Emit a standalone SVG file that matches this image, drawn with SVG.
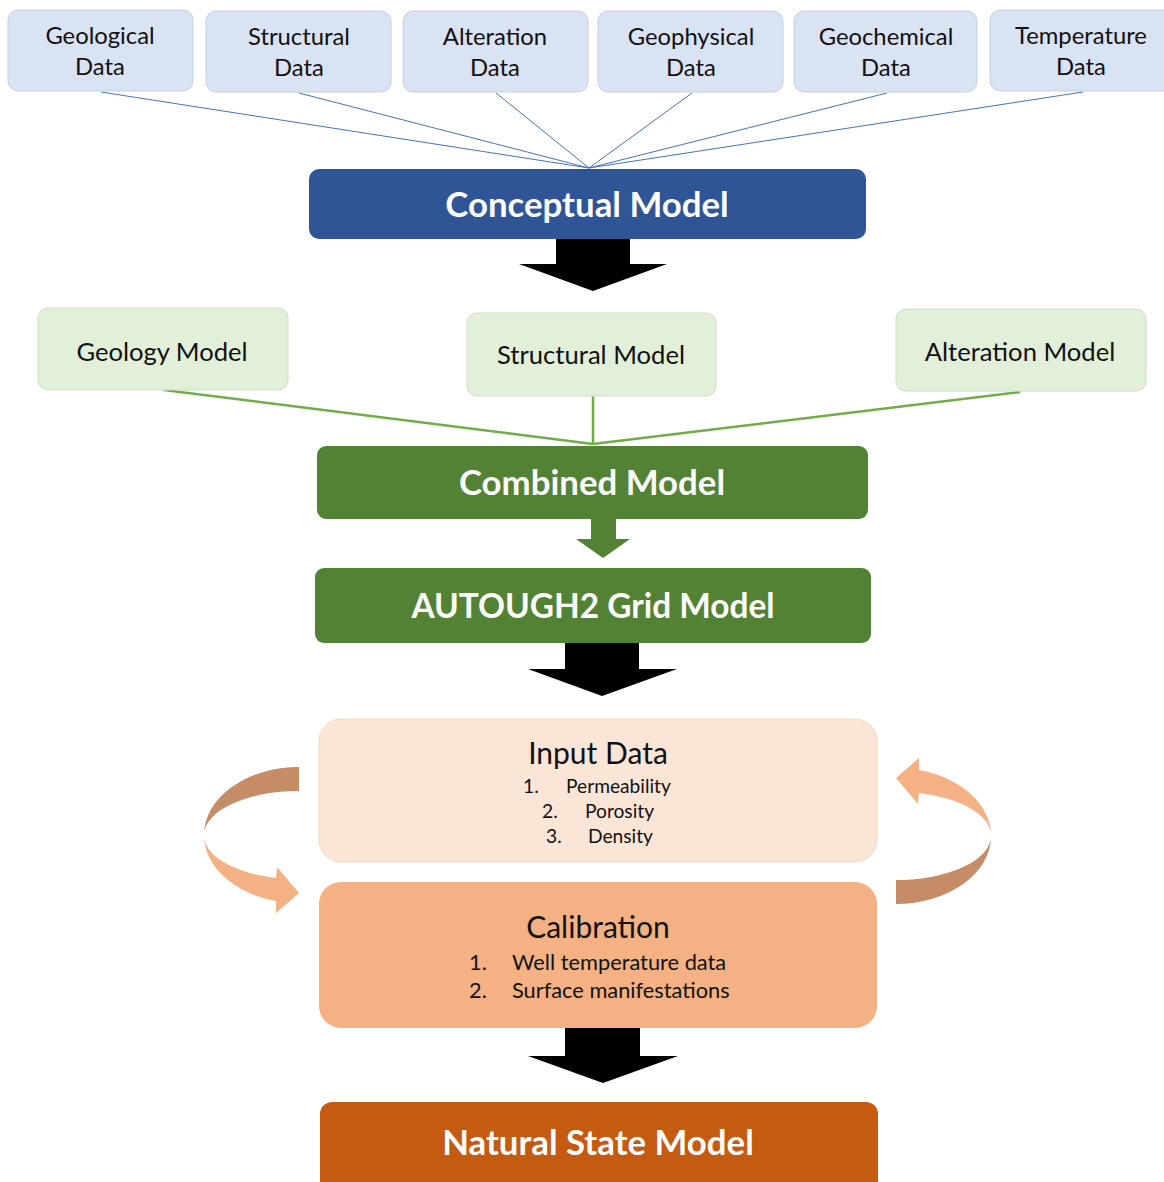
<svg xmlns="http://www.w3.org/2000/svg" width="1164" height="1182" viewBox="0 0 1164 1182">
<style>
.data rect{fill:#DAE3F3;stroke:#C5D0E3;stroke-width:1}
.mdl rect{fill:#E2F0D9;stroke:#CFDDC6;stroke-width:1}
.t{font-family:Lato,"Liberation Sans",sans-serif;fill:#111;text-anchor:middle}
.s{font-family:Lato,"Liberation Sans",sans-serif;fill:#111}
.b{font-family:Lato,"Liberation Sans",sans-serif;font-weight:bold;fill:#fff;text-anchor:middle;font-size:34.8px}
.d{font-size:23.8px}
.m{font-size:25.6px}
.blue{stroke:#4472C4;stroke-width:1;fill:none}
.green{stroke:#70AD47;stroke-width:2.5;fill:none}
.blk{fill:#000}
</style>
<defs>
<g id="curl">
<path d="M0,-68 A95,68 0 0 0 -95,0 A95,44 0 0 1 0,-44 Z" fill="#C58D65"/>
<path d="M-95,0 A95,68 0 0 0 -23,66 L-23,78 L0,58 L-22,32 L-23,43 A95,44 0 0 1 -95,0 Z" fill="#F4B183"/>
</g>
</defs>
<rect width="1164" height="1182" fill="#fff"/>

<g id="connectors">
<path class="blue" d="M101,92 L589,168 M299,93 L589,168 M496,93 L589,168 M692,93 L589,168 M887,93 L589,168 M1083,92 L589,168"/>
<path class="green" d="M164,390 L593,444 M593,396 L593,444 M1020,392 L593,444"/>
<path class="blk" d="M556,239 H630 V264 H667 L593,291 L519,264 H556 Z"/>
<path fill="#548235" d="M591,519 H616 V539 H630 L603,558 L576,539 H591 Z"/>
<path class="blk" d="M565,643 H639 V669 H677 L602,696 L528,669 H565 Z"/>
<path class="blk" d="M565,1028 H640 V1056 H678 L603,1083 L528,1056 H565 Z"/>
<use href="#curl" transform="translate(299,835)"/>
<use href="#curl" transform="translate(896,836) rotate(180)"/>
</g>

<g id="geological" class="data"><rect x="8" y="10" width="185" height="81" rx="10"/><text class="t d" x="100" y="44">Geological</text><text class="t d" x="100" y="75">Data</text></g>
<g id="structural" class="data"><rect x="206" y="11" width="185" height="81" rx="10"/><text class="t d" x="299" y="45">Structural</text><text class="t d" x="299" y="76">Data</text></g>
<g id="alteration" class="data"><rect x="403" y="11" width="185" height="81" rx="10"/><text class="t d" x="495" y="45">Alteration</text><text class="t d" x="495" y="76">Data</text></g>
<g id="geophysical" class="data"><rect x="598" y="11" width="185" height="81" rx="10"/><text class="t d" x="691" y="45">Geophysical</text><text class="t d" x="691" y="76">Data</text></g>
<g id="geochemical" class="data"><rect x="794" y="11" width="183" height="81" rx="10"/><text class="t d" x="886" y="45">Geochemical</text><text class="t d" x="886" y="76">Data</text></g>
<g id="temperature" class="data"><rect x="990" y="10" width="185" height="81" rx="10"/><text class="t d" x="1081" y="44">Temperature</text><text class="t d" x="1081" y="75">Data</text></g>

<g id="conceptual"><rect x="309" y="169" width="557" height="70" rx="10" fill="#2F5597"/><text class="b" x="587" y="217">Conceptual Model</text></g>

<g id="geology-model" class="mdl"><rect x="38" y="308" width="250" height="82" rx="10"/><text class="t m" x="162" y="361">Geology Model</text></g>
<g id="structural-model" class="mdl"><rect x="467" y="313" width="249" height="83" rx="10"/><text class="t m" x="591" y="364">Structural Model</text></g>
<g id="alteration-model" class="mdl"><rect x="896" y="309" width="250" height="82" rx="10"/><text class="t m" x="1020" y="361">Alteration Model</text></g>

<g id="combined"><rect x="317" y="446" width="551" height="73" rx="9" fill="#548235"/><text class="b" x="592" y="495">Combined Model</text></g>
<g id="autough2"><rect x="315" y="568" width="556" height="75" rx="9" fill="#548235"/><text class="b" x="593" y="618" style="font-size:33.4px">AUTOUGH2 Grid Model</text></g>

<g id="input-data"><rect x="319" y="719" width="558" height="143" rx="22" fill="#FBE5D6" stroke="#F3D8C6" stroke-width="1"/>
<text class="t" x="598" y="764" font-size="30">Input Data</text>
<text class="s" font-size="19.2"><tspan x="523" y="793">1.</tspan><tspan x="566" y="793">Permeability</tspan><tspan x="542" y="818">2.</tspan><tspan x="585" y="818">Porosity</tspan><tspan x="546" y="843">3.</tspan><tspan x="588" y="843">Density</tspan></text></g>

<g id="calibration"><rect x="319" y="882" width="558" height="146" rx="22" fill="#F4B183"/>
<text class="t" x="598" y="938" font-size="30">Calibration</text>
<text class="s" font-size="21.8"><tspan x="469" y="970">1.</tspan><tspan x="512" y="970">Well temperature data</tspan><tspan x="469" y="998">2.</tspan><tspan x="512" y="998">Surface manifestations</tspan></text></g>

<g id="natural-state"><rect x="320" y="1102" width="558" height="100" rx="12" fill="#C55A11"/><text class="b" x="598" y="1155">Natural State Model</text></g>
</svg>
